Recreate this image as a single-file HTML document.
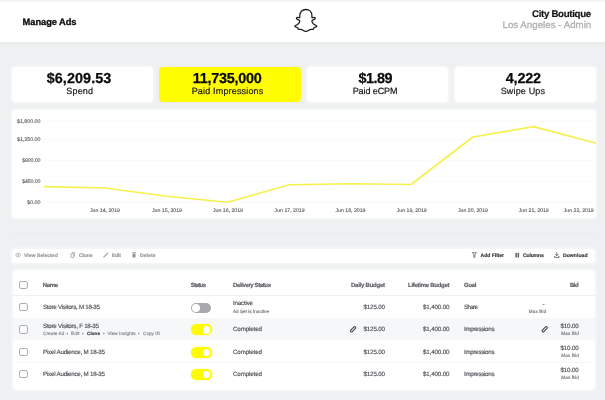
<!DOCTYPE html>
<html lang="en"><head><meta charset="utf-8"><title>Manage Ads</title>
<style>
html,body{margin:0;padding:0}
body{width:605px;height:400px;overflow:hidden;background:#eff0f1;position:relative;font-family:"Liberation Sans",sans-serif;text-rendering:geometricPrecision}
.b{position:absolute;display:block}
.t{position:absolute;white-space:nowrap;display:block;margin:0;padding:0}
svg{overflow:visible}
</style></head><body>
<header class="topbar">
<div class="b hdr-shadow" style="left:0.00px;top:42.20px;width:605.00px;height:3.00px;background:linear-gradient(#e8eaea,#ebecec 45%,#eff0f1);"></div>
<div class="b hdr-bg" style="left:0.00px;top:0.00px;width:605.00px;height:42.40px;background:#fff;"></div>
<div class="b hdr-top" style="left:0.00px;top:0.00px;width:605.00px;height:2.50px;background:linear-gradient(#f1f2f3,#f6f7f7 60%,#fff);"></div>
<h1 class="t title" style="left:22.60px;top:16px;font-size:9.30px;line-height:12px;font-weight:700;color:#0c0d0f;letter-spacing:-0.058px;-webkit-text-stroke:0.30px #0c0d0f">Manage Ads</h1>
<svg class="b logo" style="left:290px;top:4px" width="32" height="32" viewBox="290 4 32 32" aria-hidden="true"><g transform="translate(294.5,8.3) scale(0.945,0.978)"><path d="M12 1.2 C8 1.2 5.6 3.9 5.6 7.2 V9.5 C5.1 9.8 4.3 9.2 3.3 9.2 C2.2 9.2 1.6 10.2 2.4 10.9 C3.3 11.7 5.1 11.8 5.5 12.8 C5.6 13.4 5.1 14.7 4.1 15.8 C3.1 16.8 1.8 17.3 0.9 17.6 C0.2 17.9 0.3 18.6 1 18.9 C1.9 19.4 3.2 19.5 3.6 20 C3.9 20.4 3.6 21.4 4.3 21.6 C5.1 21.8 6.4 21.3 7.6 21.7 C8.9 22.2 9.9 23.6 12 23.6 C14.1 23.6 15.1 22.2 16.4 21.7 C17.6 21.3 18.9 21.8 19.7 21.6 C20.4 21.4 20.1 20.4 20.4 20 C20.8 19.5 22.1 19.4 23 18.9 C23.7 18.6 23.8 17.9 23.1 17.6 C22.2 17.3 20.9 16.8 19.9 15.8 C18.9 14.7 18.4 13.4 18.5 12.8 C18.9 11.8 20.7 11.7 21.6 10.9 C22.4 10.2 21.8 9.2 20.7 9.2 C19.7 9.2 18.9 9.8 18.4 9.5 V7.2 C18.4 3.9 16 1.2 12 1.2 Z" fill="#fff" stroke="#202022" stroke-width="1.35" stroke-linejoin="round"/></g></svg>
<div class="account">
<span class="t acct-name" style="left:532.00px;top:9px;font-size:9.70px;line-height:12px;font-weight:700;color:#151618;letter-spacing:-0.314px;-webkit-text-stroke:0.20px #151618">City Boutique</span>
<span class="t acct-role" style="left:502.50px;top:20px;font-size:9.70px;line-height:12px;font-weight:400;color:#aeb0b3;letter-spacing:0.021px;-webkit-text-stroke:0.30px #aeb0b3">Los Angeles - Admin</span>
</div>
</header>
<section class="stats">
<div class="stat">
<div class="b panel" style="left:11.80px;top:67.20px;width:141.20px;height:34.70px;background:#fff;border-radius:4.0px;box-shadow:0 0 1.5px 1.2px rgba(255,255,255,.36)"></div>
<span class="t stat-value" style="left:46.70px;top:70px;font-size:14.40px;line-height:18px;font-weight:700;color:#08090a;letter-spacing:0.071px;-webkit-text-stroke:0.25px #08090a">$6,209.53</span>
<span class="t stat-label" style="left:66.30px;top:86px;font-size:9.00px;line-height:11px;font-weight:400;color:#151619;letter-spacing:0.167px;-webkit-text-stroke:0.20px #151619">Spend</span>
</div>
<div class="stat active">
<div class="b panel" style="left:158.60px;top:66.70px;width:142.30px;height:35.70px;background:#fffd00;border-radius:4.5px;box-shadow:0 0 1px rgba(255,253,0,.5)"></div>
<span class="t stat-value" style="left:192.70px;top:70px;font-size:14.40px;line-height:18px;font-weight:700;color:#08090a;letter-spacing:-0.237px;-webkit-text-stroke:0.25px #08090a">11,735,000</span>
<span class="t stat-label" style="left:191.70px;top:86px;font-size:9.00px;line-height:11px;font-weight:400;color:#151619;letter-spacing:0.171px;-webkit-text-stroke:0.20px #151619">Paid Impressions</span>
</div>
<div class="stat">
<div class="b panel" style="left:307.30px;top:67.20px;width:140.90px;height:34.70px;background:#fff;border-radius:4.0px;box-shadow:0 0 1.5px 1.2px rgba(255,255,255,.36)"></div>
<span class="t stat-value" style="left:358.50px;top:70px;font-size:14.40px;line-height:18px;font-weight:700;color:#08090a;letter-spacing:-0.529px;-webkit-text-stroke:0.25px #08090a">$1.89</span>
<span class="t stat-label" style="left:352.70px;top:86px;font-size:9.00px;line-height:11px;font-weight:400;color:#151619;letter-spacing:-0.091px;-webkit-text-stroke:0.20px #151619">Paid eCPM</span>
</div>
<div class="stat">
<div class="b panel" style="left:455.30px;top:67.20px;width:140.40px;height:34.70px;background:#fff;border-radius:4.0px;box-shadow:0 0 1.5px 1.2px rgba(255,255,255,.36)"></div>
<span class="t stat-value" style="left:505.80px;top:70px;font-size:14.40px;line-height:18px;font-weight:700;color:#08090a;letter-spacing:-0.204px;-webkit-text-stroke:0.25px #08090a">4,222</span>
<span class="t stat-label" style="left:500.70px;top:86px;font-size:9.00px;line-height:11px;font-weight:400;color:#151619;letter-spacing:0.159px;-webkit-text-stroke:0.20px #151619">Swipe Ups</span>
</div>
</section>
<section class="chart">
<div class="b panel" style="left:11.80px;top:110.30px;width:583.90px;height:107.80px;background:#fff;border-radius:4.0px;box-shadow:0 0 1.5px 1.2px rgba(255,255,255,.36)"></div>
<svg class="b plot" style="left:12px;top:110px" width="584" height="108" viewBox="12 110 584 108" aria-hidden="true"><g stroke="#f5f6f7" stroke-width="0.6" fill="none"><line x1="44" x2="596" y1="121.0" y2="121.0"/><line x1="44" x2="596" y1="139.5" y2="139.5"/><line x1="44" x2="596" y1="160.5" y2="160.5"/><line x1="44" x2="596" y1="181.2" y2="181.2"/><line x1="44" x2="596" y1="202.2" y2="202.2"/></g><polyline points="44.4,186.6 105.0,188.0 166.5,196.2 227.6,202.2 289.3,184.8 351.0,183.8 411.0,184.5 473.0,137.0 533.6,126.6 595.5,143.0" fill="none" stroke="#f6f04c" stroke-width="1.65" stroke-linejoin="round" stroke-linecap="round"/></svg>
<div class="y-axis">
<span class="t tick" style="left:17.00px;top:119px;font-size:5.30px;line-height:7px;font-weight:400;color:#5c5f63;letter-spacing:-0.010px;-webkit-text-stroke:0.13px #5c5f63">$1,800.00</span>
<span class="t tick" style="left:17.00px;top:137px;font-size:5.30px;line-height:7px;font-weight:400;color:#5c5f63;letter-spacing:-0.010px;-webkit-text-stroke:0.13px #5c5f63">$1,350.00</span>
<span class="t tick" style="left:22.20px;top:158px;font-size:5.30px;line-height:7px;font-weight:400;color:#5c5f63;letter-spacing:-0.143px;-webkit-text-stroke:0.13px #5c5f63">$900.00</span>
<span class="t tick" style="left:22.20px;top:179px;font-size:5.30px;line-height:7px;font-weight:400;color:#5c5f63;letter-spacing:-0.143px;-webkit-text-stroke:0.13px #5c5f63">$450.00</span>
<span class="t tick" style="left:27.30px;top:200px;font-size:5.30px;line-height:7px;font-weight:400;color:#5c5f63;letter-spacing:-0.016px;-webkit-text-stroke:0.13px #5c5f63">$0.00</span>
</div>
<div class="x-axis">
<span class="t tick" style="left:90.00px;top:208px;font-size:5.20px;line-height:7px;font-weight:400;color:#5c5f63;letter-spacing:0.000px;-webkit-text-stroke:0.13px #5c5f63">Jun 14, 2019</span>
<span class="t tick" style="left:152.00px;top:208px;font-size:5.20px;line-height:7px;font-weight:400;color:#5c5f63;letter-spacing:0.000px;-webkit-text-stroke:0.13px #5c5f63">Jun 15, 2019</span>
<span class="t tick" style="left:213.00px;top:208px;font-size:5.20px;line-height:7px;font-weight:400;color:#5c5f63;letter-spacing:0.000px;-webkit-text-stroke:0.13px #5c5f63">Jun 16, 2019</span>
<span class="t tick" style="left:274.60px;top:208px;font-size:5.20px;line-height:7px;font-weight:400;color:#5c5f63;letter-spacing:0.000px;-webkit-text-stroke:0.13px #5c5f63">Jun 17, 2019</span>
<span class="t tick" style="left:335.50px;top:208px;font-size:5.20px;line-height:7px;font-weight:400;color:#5c5f63;letter-spacing:0.000px;-webkit-text-stroke:0.13px #5c5f63">Jun 18, 2019</span>
<span class="t tick" style="left:396.70px;top:208px;font-size:5.20px;line-height:7px;font-weight:400;color:#5c5f63;letter-spacing:0.000px;-webkit-text-stroke:0.13px #5c5f63">Jun 19, 2019</span>
<span class="t tick" style="left:458.00px;top:208px;font-size:5.20px;line-height:7px;font-weight:400;color:#5c5f63;letter-spacing:0.000px;-webkit-text-stroke:0.13px #5c5f63">Jun 20, 2019</span>
<span class="t tick" style="left:518.70px;top:208px;font-size:5.20px;line-height:7px;font-weight:400;color:#5c5f63;letter-spacing:0.000px;-webkit-text-stroke:0.13px #5c5f63">Jun 21, 2019</span>
<span class="t tick" style="left:563.70px;top:208px;font-size:5.20px;line-height:7px;font-weight:400;color:#5c5f63;letter-spacing:0.000px;-webkit-text-stroke:0.13px #5c5f63">Jun 22, 2019</span>
</div>
</section>
<div class="b rule" style="left:13.00px;top:233.10px;width:583.00px;height:0.80px;background:#e9eaeb;"></div>
<nav class="toolbar">
<div class="b panel" style="left:12.30px;top:248.60px;width:582.90px;height:14.10px;background:#fff;border-radius:3.5px;box-shadow:0 0 1.5px 1.2px rgba(255,255,255,.36)"></div>
<div class="tools-left">
<div class="tool disabled">
<svg class="b ico" style="left:13px;top:250px" width="10" height="10" viewBox="13 250 10 10" aria-hidden="true"><g stroke="#9a9ca0" fill="none" stroke-width="0.75"><path d="M15.6 255.0 C16.6 252.7 19.6 252.7 20.6 255.0 C19.6 257.3 16.6 257.3 15.6 255.0 Z"/><circle cx="18.1" cy="255.0" r="0.75" fill="#9a9ca0" stroke="none"/></g></svg>
<span class="t tool-label" style="left:24.00px;top:253px;font-size:5.10px;line-height:7px;font-weight:700;color:#999b9f;letter-spacing:-0.012px;-webkit-text-stroke:0.18px #999b9f">View Selected</span>
</div>
<div class="tool disabled">
<svg class="b ico" style="left:68px;top:250px" width="10" height="10" viewBox="68 250 10 10" aria-hidden="true"><g stroke="#9a9ca0" fill="none" stroke-width="0.75"><rect x="71" y="253.7" width="2.6" height="3.8" rx="0.4"/><path d="M72.2 253.7 V252.6 H74.6 V256.5"/></g></svg>
<span class="t tool-label" style="left:79.00px;top:253px;font-size:5.10px;line-height:7px;font-weight:700;color:#999b9f;letter-spacing:-0.164px;-webkit-text-stroke:0.18px #999b9f">Clone</span>
</div>
<div class="tool disabled">
<svg class="b ico" style="left:101px;top:250px" width="10" height="10" viewBox="101 250 10 10" aria-hidden="true"><path d="M103.9 256.9 L107.8 253.1" stroke="#9a9ca0" stroke-width="1.15" stroke-linecap="round"/></svg>
<span class="t tool-label" style="left:111.75px;top:253px;font-size:5.10px;line-height:7px;font-weight:700;color:#999b9f;letter-spacing:-0.125px;-webkit-text-stroke:0.18px #999b9f">Edit</span>
</div>
<div class="tool disabled">
<svg class="b ico" style="left:129px;top:250px" width="10" height="10" viewBox="129 250 10 10" aria-hidden="true"><g fill="#9a9ca0"><rect x="132" y="252.3" width="4" height="0.8"/><rect x="132.4" y="253.5" width="3.2" height="4" rx="0.5"/></g></svg>
<span class="t tool-label" style="left:140.00px;top:253px;font-size:5.10px;line-height:7px;font-weight:700;color:#999b9f;letter-spacing:0.041px;-webkit-text-stroke:0.18px #999b9f">Delete</span>
</div>
</div>
<div class="tools-right">
<div class="tool ">
<svg class="b ico" style="left:469px;top:250px" width="10" height="10" viewBox="469 250 10 10" aria-hidden="true"><path d="M472.3 252.6 H476.3 L474.8 254.8 V257.4 H473.8 V254.8 Z" fill="none" stroke="#505256" stroke-width="0.7" stroke-linejoin="round"/></svg>
<span class="t tool-label" style="left:480.50px;top:253px;font-size:5.10px;line-height:7px;font-weight:700;color:#3a3c40;letter-spacing:-0.031px;-webkit-text-stroke:0.18px #3a3c40">Add Filter</span>
</div>
<div class="tool ">
<svg class="b ico" style="left:512px;top:250px" width="10" height="10" viewBox="512 250 10 10" aria-hidden="true"><g fill="#5e6064"><rect x="515.4" y="252.9" width="1.5" height="4.6"/><rect x="517.6" y="252.9" width="1.5" height="4.6"/></g></svg>
<span class="t tool-label" style="left:523.00px;top:253px;font-size:5.10px;line-height:7px;font-weight:700;color:#3a3c40;letter-spacing:-0.174px;-webkit-text-stroke:0.18px #3a3c40">Columns</span>
</div>
<div class="tool ">
<svg class="b ico" style="left:552px;top:250px" width="10" height="10" viewBox="552 250 10 10" aria-hidden="true"><g stroke="#505256" fill="none" stroke-width="0.8"><path d="M556.8 252.2 V255.6 M555.2 254.2 L556.8 255.8 L558.4 254.2 M554.6 256.0 V257.4 H559 V256.0"/></g></svg>
<span class="t tool-label" style="left:563.00px;top:253px;font-size:5.10px;line-height:7px;font-weight:700;color:#3a3c40;letter-spacing:0.022px;-webkit-text-stroke:0.18px #3a3c40">Download</span>
</div>
</div>
</nav>
<section class="adsets" role="table">
<div class="b panel" style="left:12.90px;top:270.20px;width:582.00px;height:119.40px;background:#fff;border-radius:4.5px;box-shadow:0 0 1.5px 1.2px rgba(255,255,255,.36)"></div>
<div class="thead" role="row">
<div class="b checkbox" style="left:19.3px;top:280.60px;width:8.4px;height:8.4px;box-sizing:border-box;border:1.25px solid #a7a9ad;border-radius:2.3px;background:#fff"></div>
<span class="t th" style="left:42.75px;top:282px;font-size:6.00px;line-height:8px;font-weight:700;color:#606368;letter-spacing:-0.331px;-webkit-text-stroke:0.18px #606368">Name</span>
<span class="t th" style="left:190.75px;top:282px;font-size:6.00px;line-height:8px;font-weight:700;color:#606368;letter-spacing:-0.619px;-webkit-text-stroke:0.18px #606368">Status</span>
<span class="t th" style="left:233.00px;top:282px;font-size:6.00px;line-height:8px;font-weight:700;color:#606368;letter-spacing:-0.383px;-webkit-text-stroke:0.18px #606368">Delivery Status</span>
<span class="t th" style="left:351.00px;top:282px;font-size:6.00px;line-height:8px;font-weight:700;color:#606368;letter-spacing:-0.243px;-webkit-text-stroke:0.18px #606368">Daily Budget</span>
<span class="t th" style="left:408.00px;top:282px;font-size:6.00px;line-height:8px;font-weight:700;color:#606368;letter-spacing:-0.275px;-webkit-text-stroke:0.18px #606368">Lifetime Budget</span>
<span class="t th" style="left:464.00px;top:282px;font-size:6.00px;line-height:8px;font-weight:700;color:#606368;letter-spacing:-0.281px;-webkit-text-stroke:0.18px #606368">Goal</span>
<span class="t th" style="left:570.00px;top:282px;font-size:6.00px;line-height:8px;font-weight:700;color:#606368;letter-spacing:-0.461px;-webkit-text-stroke:0.18px #606368">Bid</span>
<div class="b row-line" style="left:12.90px;top:295.30px;width:582.00px;height:0.60px;background:#eef0f2;"></div>
</div>
<div class="row" role="row">
<div class="b checkbox" style="left:19.3px;top:302.90px;width:8.4px;height:8.4px;box-sizing:border-box;border:1.25px solid #a7a9ad;border-radius:2.3px;background:#fff"></div>
<span class="t td name" style="left:43.00px;top:304px;font-size:6.20px;line-height:8px;font-weight:400;color:#505358;letter-spacing:-0.265px;-webkit-text-stroke:0.16px #505358">Store Visitors, M 18-35</span>
<div class="toggle off">
<div class="b track" style="left:190.80px;top:302.90px;width:20.00px;height:10.00px;background:#a8a9ae;border-radius:5.0px;"></div>
<div class="b knob" style="left:191.60px;top:303.70px;width:8.4px;height:8.4px;border-radius:50%;background:#fff"></div>
</div>
<span class="t td delivery" style="left:233.00px;top:300px;font-size:6.20px;line-height:8px;font-weight:400;color:#505358;letter-spacing:-0.190px;-webkit-text-stroke:0.16px #505358">Inactive</span>
<span class="t sub" style="left:233.00px;top:309px;font-size:4.60px;line-height:6px;font-weight:400;color:#74777c;letter-spacing:0.029px;-webkit-text-stroke:0.16px #74777c">Ad Set is Inactive</span>
<span class="t td num" style="left:363.50px;top:304px;font-size:6.20px;line-height:8px;font-weight:400;color:#505358;letter-spacing:-0.146px;-webkit-text-stroke:0.16px #505358">$125.00</span>
<span class="t td num" style="left:423.00px;top:304px;font-size:6.20px;line-height:8px;font-weight:400;color:#505358;letter-spacing:-0.129px;-webkit-text-stroke:0.16px #505358">$1,400.00</span>
<span class="t td goal" style="left:464.00px;top:304px;font-size:6.20px;line-height:8px;font-weight:400;color:#505358;letter-spacing:-0.629px;-webkit-text-stroke:0.16px #505358">Share</span>
<span class="t td bid" style="left:542.60px;top:301px;font-size:6.20px;line-height:8px;font-weight:400;color:#777a7e;letter-spacing:0.000px;-webkit-text-stroke:0.16px #777a7e">-</span>
<span class="t sub" style="left:528.75px;top:309px;font-size:4.60px;line-height:6px;font-weight:400;color:#74777c;letter-spacing:0.148px;-webkit-text-stroke:0.16px #74777c">Max Bid</span>
</div>
<div class="row selected" role="row">
<div class="b row-bg" style="left:12.90px;top:317.50px;width:582.00px;height:22.80px;background:#f6f7f9;"></div>
<div class="b checkbox" style="left:19.3px;top:325.15px;width:8.4px;height:8.4px;box-sizing:border-box;border:1.25px solid #a7a9ad;border-radius:2.3px;background:#fff"></div>
<span class="t td name" style="left:43.00px;top:323px;font-size:6.20px;line-height:8px;font-weight:400;color:#505358;letter-spacing:-0.248px;-webkit-text-stroke:0.16px #505358">Store Visitors, F 18-35</span>
<div class="row-actions">
<span class="t action" style="left:43.00px;top:331px;font-size:4.60px;line-height:6px;font-weight:400;color:#84878b;letter-spacing:0.108px;-webkit-text-stroke:0.16px #84878b">Create Ad</span>
<span class="t sep" style="left:66.50px;top:331px;font-size:4.60px;line-height:6px;font-weight:400;color:#84878b;letter-spacing:0.000px;-webkit-text-stroke:0.16px #84878b">•</span>
<span class="t action" style="left:71.00px;top:331px;font-size:4.60px;line-height:6px;font-weight:400;color:#84878b;letter-spacing:0.193px;-webkit-text-stroke:0.16px #84878b">Edit</span>
<span class="t sep" style="left:82.00px;top:331px;font-size:4.60px;line-height:6px;font-weight:400;color:#84878b;letter-spacing:0.000px;-webkit-text-stroke:0.16px #84878b">•</span>
<span class="t action" style="left:87.00px;top:331px;font-size:4.60px;line-height:6px;font-weight:700;color:#3c3e42;letter-spacing:0.059px;-webkit-text-stroke:0.16px #3c3e42">Clone</span>
<span class="t sep" style="left:103.00px;top:331px;font-size:4.60px;line-height:6px;font-weight:400;color:#84878b;letter-spacing:0.000px;-webkit-text-stroke:0.16px #84878b">•</span>
<span class="t action" style="left:107.50px;top:331px;font-size:4.60px;line-height:6px;font-weight:400;color:#84878b;letter-spacing:0.085px;-webkit-text-stroke:0.16px #84878b">View Insights</span>
<span class="t sep" style="left:138.00px;top:331px;font-size:4.60px;line-height:6px;font-weight:400;color:#84878b;letter-spacing:0.000px;-webkit-text-stroke:0.16px #84878b">•</span>
<span class="t action" style="left:143.00px;top:331px;font-size:4.60px;line-height:6px;font-weight:400;color:#84878b;letter-spacing:0.065px;-webkit-text-stroke:0.16px #84878b">Copy ID</span>
</div>
<div class="toggle on">
<div class="b track" style="left:190.70px;top:324.25px;width:21.80px;height:11.20px;background:#fdfb00;border-radius:5.6px;box-shadow:0 0 1.5px rgba(253,251,0,.7)"></div>
<div class="b knob" style="left:202.70px;top:326.15px;width:7.4px;height:7.4px;border-radius:50%;background:#fff"></div>
</div>
<span class="t td delivery" style="left:233.00px;top:326px;font-size:6.20px;line-height:8px;font-weight:400;color:#505358;letter-spacing:-0.117px;-webkit-text-stroke:0.16px #505358">Completed</span>
<svg class="b ico pencil" style="left:348px;top:324px" width="11" height="11" viewBox="348 324 11 11" aria-hidden="true"><g transform="translate(353.1,329.3) rotate(45)"><rect x="-1.05" y="-3.25" width="2.1" height="6.5" rx="1" fill="#f1f2f3" stroke="#404246" stroke-width="1.05"/></g></svg>
<span class="t td num" style="left:363.50px;top:326px;font-size:6.20px;line-height:8px;font-weight:400;color:#505358;letter-spacing:-0.146px;-webkit-text-stroke:0.16px #505358">$125.00</span>
<span class="t td num" style="left:423.00px;top:326px;font-size:6.20px;line-height:8px;font-weight:400;color:#505358;letter-spacing:-0.129px;-webkit-text-stroke:0.16px #505358">$1,400.00</span>
<span class="t td goal" style="left:464.00px;top:326px;font-size:6.20px;line-height:8px;font-weight:400;color:#505358;letter-spacing:-0.286px;-webkit-text-stroke:0.16px #505358">Impressions</span>
<svg class="b ico pencil" style="left:539px;top:324px" width="11" height="11" viewBox="539 324 11 11" aria-hidden="true"><g transform="translate(544.7,329.3) rotate(45)"><rect x="-1.05" y="-3.25" width="2.1" height="6.5" rx="1" fill="#f1f2f3" stroke="#404246" stroke-width="1.05"/></g></svg>
<span class="t td bid" style="left:560.50px;top:323px;font-size:6.20px;line-height:8px;font-weight:400;color:#505358;letter-spacing:-0.138px;-webkit-text-stroke:0.16px #505358">$10.00</span>
<span class="t sub" style="left:561.30px;top:331px;font-size:4.60px;line-height:6px;font-weight:400;color:#74777c;letter-spacing:0.140px;-webkit-text-stroke:0.16px #74777c">Max Bid</span>
</div>
<div class="row" role="row">
<div class="b checkbox" style="left:19.3px;top:347.65px;width:8.4px;height:8.4px;box-sizing:border-box;border:1.25px solid #a7a9ad;border-radius:2.3px;background:#fff"></div>
<span class="t td name" style="left:43.00px;top:349px;font-size:6.20px;line-height:8px;font-weight:400;color:#505358;letter-spacing:-0.215px;-webkit-text-stroke:0.16px #505358">Pixel Audience, M 18-35</span>
<div class="toggle on">
<div class="b track" style="left:190.70px;top:346.75px;width:21.80px;height:11.20px;background:#fdfb00;border-radius:5.6px;box-shadow:0 0 1.5px rgba(253,251,0,.7)"></div>
<div class="b knob" style="left:202.70px;top:348.65px;width:7.4px;height:7.4px;border-radius:50%;background:#fff"></div>
</div>
<span class="t td delivery" style="left:233.00px;top:349px;font-size:6.20px;line-height:8px;font-weight:400;color:#505358;letter-spacing:-0.117px;-webkit-text-stroke:0.16px #505358">Completed</span>
<span class="t td num" style="left:363.50px;top:349px;font-size:6.20px;line-height:8px;font-weight:400;color:#505358;letter-spacing:-0.146px;-webkit-text-stroke:0.16px #505358">$125.00</span>
<span class="t td num" style="left:423.00px;top:349px;font-size:6.20px;line-height:8px;font-weight:400;color:#505358;letter-spacing:-0.129px;-webkit-text-stroke:0.16px #505358">$1,400.00</span>
<span class="t td goal" style="left:464.00px;top:349px;font-size:6.20px;line-height:8px;font-weight:400;color:#505358;letter-spacing:-0.286px;-webkit-text-stroke:0.16px #505358">Impressions</span>
<span class="t td bid" style="left:560.50px;top:345px;font-size:6.20px;line-height:8px;font-weight:400;color:#505358;letter-spacing:-0.138px;-webkit-text-stroke:0.16px #505358">$10.00</span>
<span class="t sub" style="left:561.30px;top:353px;font-size:4.60px;line-height:6px;font-weight:400;color:#74777c;letter-spacing:0.140px;-webkit-text-stroke:0.16px #74777c">Max Bid</span>
</div>
<div class="row" role="row">
<div class="b row-line" style="left:12.90px;top:362.20px;width:582.00px;height:0.60px;background:#f5f6f7;"></div>
<div class="b checkbox" style="left:19.3px;top:369.65px;width:8.4px;height:8.4px;box-sizing:border-box;border:1.25px solid #a7a9ad;border-radius:2.3px;background:#fff"></div>
<span class="t td name" style="left:43.00px;top:371px;font-size:6.20px;line-height:8px;font-weight:400;color:#505358;letter-spacing:-0.215px;-webkit-text-stroke:0.16px #505358">Pixel Audience, M 18-35</span>
<div class="toggle on">
<div class="b track" style="left:190.70px;top:369.15px;width:21.80px;height:11.20px;background:#fdfb00;border-radius:5.6px;box-shadow:0 0 1.5px rgba(253,251,0,.7)"></div>
<div class="b knob" style="left:202.70px;top:371.05px;width:7.4px;height:7.4px;border-radius:50%;background:#fff"></div>
</div>
<span class="t td delivery" style="left:233.00px;top:371px;font-size:6.20px;line-height:8px;font-weight:400;color:#505358;letter-spacing:-0.117px;-webkit-text-stroke:0.16px #505358">Completed</span>
<span class="t td num" style="left:363.50px;top:371px;font-size:6.20px;line-height:8px;font-weight:400;color:#505358;letter-spacing:-0.146px;-webkit-text-stroke:0.16px #505358">$125.00</span>
<span class="t td num" style="left:423.00px;top:371px;font-size:6.20px;line-height:8px;font-weight:400;color:#505358;letter-spacing:-0.129px;-webkit-text-stroke:0.16px #505358">$1,400.00</span>
<span class="t td goal" style="left:464.00px;top:371px;font-size:6.20px;line-height:8px;font-weight:400;color:#505358;letter-spacing:-0.286px;-webkit-text-stroke:0.16px #505358">Impressions</span>
<span class="t td bid" style="left:560.50px;top:367px;font-size:6.20px;line-height:8px;font-weight:400;color:#505358;letter-spacing:-0.138px;-webkit-text-stroke:0.16px #505358">$10.00</span>
<span class="t sub" style="left:561.30px;top:375px;font-size:4.60px;line-height:6px;font-weight:400;color:#74777c;letter-spacing:0.140px;-webkit-text-stroke:0.16px #74777c">Max Bid</span>
</div>
</section>
</body></html>
